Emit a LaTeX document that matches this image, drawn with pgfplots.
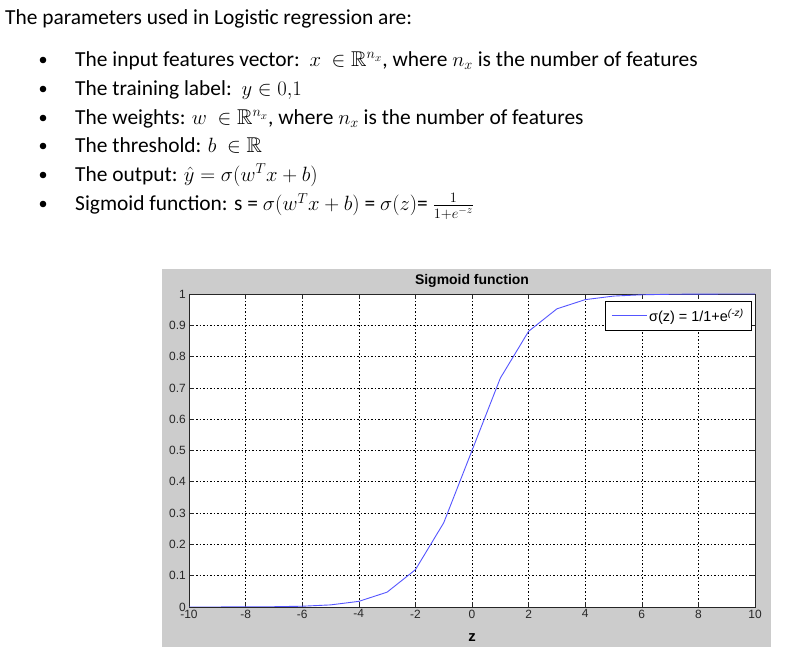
\documentclass[border=0pt]{standalone}
\usepackage{amssymb}
\usepackage{fontspec}
\setmainfont{Carlito}
\newfontfamily\arial{Liberation Sans}
\usepackage{pgfplots}
\pgfplotsset{compat=1.18}
\definecolor{panel}{RGB}{204,204,204}
\definecolor{sigblue}{RGB}{85,85,255}
\definecolor{ticktxt}{RGB}{40,40,40}
\begin{document}
\begin{tikzpicture}[x=1bp,y=1bp]
\useasboundingbox (0,0) rectangle (795,667);
\fill[white] (0,0) rectangle (795,667);
\begin{scope}[every node/.style={inner sep=0pt, anchor=base west, font=\fontsize{21.5}{25}\selectfont}]
\node at (5,642) {The parameters used in Logistic regression are:};
\node at (75,600.5) {The input features vector:\ \ $x\ \in \mathbb{R}^{n_x}$, where $n_x$ is the number of features};
\node at (75,571.5) {The training label:\ \ $y \in 0{,}1$};
\node at (75,542.5) {The weights: $w\ \in \mathbb{R}^{n_x}$, where $n_x$ is the number of features};
\node at (75,514.5) {The threshold: $b\ \in \mathbb{R}$};
\node at (75,485.5) {The output: $\hat{y} = \sigma(w^T x + b)$};
\node at (75,456) {Sigmoid function: s = $\sigma(w^T x + b)$ = $\sigma(z)$= $\frac{1}{1+e^{-z}}$};
\end{scope}
\foreach \yy in {607,578,549,521,492,463}{
  \fill[black] (43,\yy) circle (3.3);
}
\fill[panel] (162,20) rectangle (771,398);
\begin{axis}[
  at={(189bp,60bp)}, anchor=south west,
  scale only axis, width=566bp, height=313bp,
  xmin=-10, xmax=10, ymin=0, ymax=1,
  xtick={-10,-8,-6,-4,-2,0,2,4,6,8,10},
  ytick={0,0.1,0.2,0.3,0.4,0.5,0.6,0.7,0.8,0.9,1},
  axis background/.style={fill=white},
  grid=major,
  grid style={black, line width=0.6bp, dash pattern=on 1.5bp off 2bp},
  axis line style={black!85, line width=0.8bp},
  tick align=inside, major tick length=5bp,
  tick style={black!85, line width=0.6bp},
  /pgf/number format/assume math mode=true,
  ticklabel style={font=\arial\fontsize{12}{13}\selectfont, text=ticktxt},
  xticklabel style={inner sep=2.5bp},
  yticklabel style={/pgf/number format/fixed, /pgf/number format/precision=1, inner sep=3bp},
  title={Sigmoid function},
  title style={at={(axis description cs:0.5,1)}, anchor=base, yshift=4bp, font=\arial\bfseries\fontsize{14}{16}\selectfont},
  xlabel={z},
  xlabel style={at={(axis description cs:0.5,0)}, anchor=base, yshift=-35bp, font=\arial\bfseries\fontsize{15}{16}\selectfont},
  legend style={at={(0.9947,0.9776)}, anchor=north east, draw=black, line width=0.8bp, fill=white,
    font=\arial\fontsize{14.5}{16}\selectfont, inner xsep=6bp, inner ysep=5.5bp},
  legend cell align=left,
  legend image code/.code={\draw[#1] (0bp,0bp) -- (35bp,0bp);},
]
\addplot[sigblue, line width=0.9bp] coordinates {
(-10,0.0000454) (-9,0.000123) (-8,0.000335) (-7,0.000911) (-6,0.00247)
(-5,0.00669) (-4,0.01799) (-3,0.04743) (-2,0.1192) (-1,0.2689) (0,0.5)
(1,0.7311) (2,0.8808) (3,0.9526) (4,0.9820) (5,0.9933) (6,0.9975)
(7,0.9991) (8,0.99966) (9,0.99988) (10,0.99995)
};
\addlegendentry{σ(z) = 1/1+e\textsuperscript{\itshape(-z)}}
\end{axis}
\end{tikzpicture}
\end{document}
